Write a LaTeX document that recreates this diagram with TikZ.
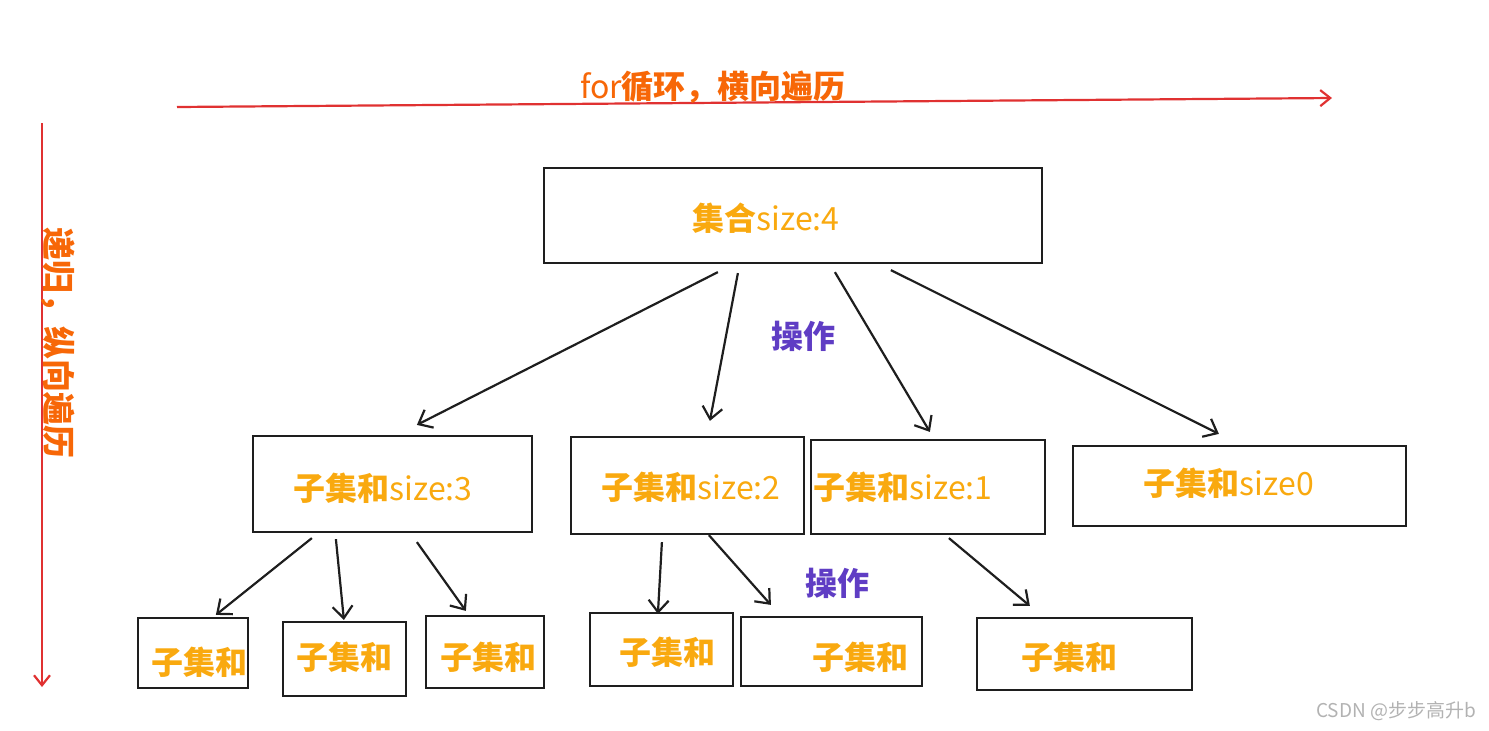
\documentclass[tikz,border=0pt]{standalone}
\usepackage{fontspec}
\setmainfont{Noto Sans CJK SC}
\usetikzlibrary{arrows.meta,calc,fit}
\definecolor{redline}{HTML}{E03131}
\definecolor{titleorange}{HTML}{F76707}
\definecolor{setorange}{HTML}{F9A90F}
\definecolor{oppurple}{HTML}{5F3DC4}
\definecolor{boxline}{HTML}{1E1E1E}
\newcommand{\zh}[1]{{\bfseries #1}}
\tikzset{
  box/.style={draw=boxline,line width=1.1pt,inner sep=0pt},
  settext/.style={text=setorange,font=\fontsize{16}{18}\selectfont,inner sep=0pt},
  optext/.style={text=oppurple,font=\fontsize{16}{18}\selectfont\bfseries,inner sep=0pt},
  arr/.style={draw=boxline,line width=1.1pt,-{Straight Barb[length=6pt,width=10pt]}},
  redarr/.style={draw=redline,line width=1.1pt,-{Straight Barb[length=5pt,width=8pt]}}
}
\begin{document}
\begin{tikzpicture}[x=0.5pt,y=-0.5pt]
  \useasboundingbox (0,0) rectangle (1489,730);
  % red axes
  \coordinate (h0) at (177,107);
  \coordinate (h1) at (1332,98);
  \coordinate (v0) at (42,123);
  \coordinate (v1) at (42,687);
  \draw[redarr] (h0) -- (h1);
  \draw[redarr] (v0) -- (v1);
  \node[text=titleorange,font=\fontsize{16}{18}\selectfont,inner sep=0pt] (htitle) at (713,87) {for\zh{循环，横向遍历}};
  \node[text=titleorange,font=\fontsize{16.5}{18}\selectfont\bfseries,inner sep=0pt,rotate=-90] (vtitle) at (58,343) {递归，纵向遍历};

  % boxes
  \node[box,fit={(544,168) (1042,263)}] (top) {};
  \node[box,fit={(253,436) (532,532)}] (A) {};
  \node[box,fit={(571,437) (804,534)}] (B) {};
  \node[box,fit={(811,440) (1045,534)}] (C) {};
  \node[box,fit={(1073,446) (1406,526)}] (D) {};
  \node[box,fit={(138,618) (248,688)}] (b1) {};
  \node[box,fit={(283,622) (406,696)}] (b2) {};
  \node[box,fit={(426,616) (544,688)}] (b3) {};
  \node[box,fit={(590,613) (733,686)}] (b4) {};
  \node[box,fit={(741,617) (922,686)}] (b5) {};
  \node[box,fit={(977,618) (1192,690)}] (b6) {};

  % texts
  \node[settext] (ttop) at (766,218) {\zh{集合}size:4};
  \node[settext] (tA) at (383,488) {\zh{子集和}size:3};
  \node[settext] (tB) at (691,487) {\zh{子集和}size:2};
  \node[settext] (tC) at (903,487) {\zh{子集和}size:1};
  \node[settext] (tD) at (1229,483) {\zh{子集和}size0};
  \node[settext] (tb1) at (199,662) {\zh{子集和}};
  \node[settext] (tb2) at (344,657) {\zh{子集和}};
  \node[settext] (tb3) at (488,657) {\zh{子集和}};
  \node[settext] (tb4) at (667,652) {\zh{子集和}};
  \node[settext] (tb5) at (860,657) {\zh{子集和}};
  \node[settext] (tb6) at (1069,657) {\zh{子集和}};
  \node[optext] (op1) at (803,336) {操作};
  \node[optext] (op2) at (837,583) {操作};

  % arrows
  \draw[arr] ($(top.south west)+(175,8)$) -- ($(A.north west)+(165,-10)$);
  \draw[arr] ($(top.south west)+(195,9)$) -- ($(B.north west)+(140,-15)$);
  \draw[arr] ($(top.south west)+(292,8)$) -- ($(C.north west)+(120,-7)$);
  \draw[arr] ($(top.south west)+(348,6)$) -- ($(D.north west)+(147,-11)$);
  \draw[arr] ($(A.south west)+(60,5)$) -- ($(b1.north west)+(79,-2)$);
  \draw[arr] ($(A.south west)+(84,6)$) -- ($(b2.north west)+(62,-1)$);
  \draw[arr] ($(A.south west)+(165,9)$) -- ($(b3.north west)+(41,-4)$);
  \draw[arr] ($(B.south west)+(92,7)$) -- ($(b4.north west)+(69,2)$);
  \draw[arr] ($(B.south west)+(139,0)$) -- ($(b5.north west)+(31,-11)$);
  \draw[arr] ($(C.south west)+(139,3)$) -- ($(b6.north west)+(54,-11)$);

  \node[text=gray!60,font=\fontsize{9.5}{11}\selectfont,inner sep=0pt] (mark) at (1396,711) {CSDN @步步高升b};
\end{tikzpicture}
\end{document}
